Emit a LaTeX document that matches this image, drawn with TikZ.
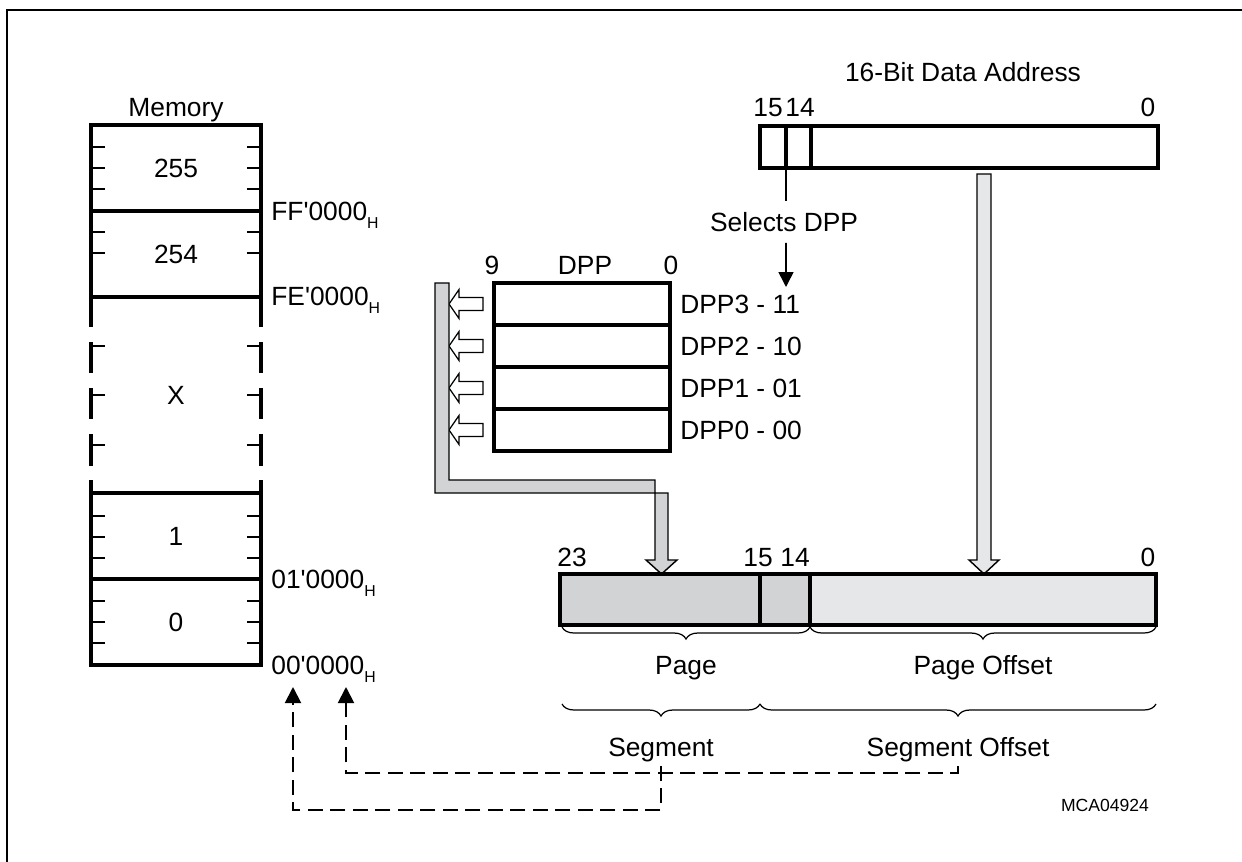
\documentclass[tikz,border=0pt]{standalone}
\usepackage{fontspec}
\setmainfont{Liberation Sans}
\usepackage{tikz}
\usetikzlibrary{arrows.meta,positioning,decorations.pathreplacing}
\definecolor{pagegray}{RGB}{209,211,212}
\definecolor{offgray}{RGB}{230,231,232}
\newcommand{\hexaddr}[1]{#1\raisebox{-4.8pt}{\fontsize{9}{9}\selectfont H}}

\begin{document}
\begin{tikzpicture}[
    x=0.02cm, y=-0.02cm,
    font=\fontsize{15}{18}\selectfont,
    lbl/.style={inner sep=0pt, text height=10.7pt, text depth=0pt},
    heavy/.style={line width=2pt},
    tick/.style={line width=1.1pt},
    memblk/.style={lbl, rectangle, draw, heavy, minimum width=3.4cm, minimum height=1.72cm},
    regcell/.style={rectangle, draw, heavy, outer sep=0pt, minimum height=0.84cm},
    dppreg/.style={regcell, minimum width=3.52cm},
    hollow/.style={draw, fill=white, line width=0.7pt, line join=miter},
    fatarrow/.style={draw, line width=0.8pt},
    pointer/.style={line width=0.9pt},
    brace/.style={decorate, decoration={brace, mirror, amplitude=0.24cm}, line width=0.7pt},
    dasharrow/.style={line width=1.1pt, dash pattern=on 0.3cm off 0.15cm,
        -{Triangle[length=0.32cm, width=0.32cm]}}
]
\useasboundingbox (0,0) rectangle (1242,862);
\draw[line width=0.6pt] (7,862) |- (1242,10);

% memory map
\node[lbl] (memtitle) at (176,107) {Memory};
\node[memblk] (m255) at (176,168) {255};
\node[memblk] (m254) at (176,254) {254};
\node[memblk] (m1)   at (176,536) {1};
\node[memblk] (m0)   at (176,622) {0};
\node[lbl] (mx) at (176,395) {X};
\foreach \ya/\yb in {297/327,342/373,388/419,434/466,480/493}
  \draw[heavy] (91,\ya) -- (91,\yb) (261,\ya) -- (261,\yb);
\foreach \y in {147,168,189,232,253,346,395,445,516,537,558,601,622,643}
  \draw[tick] (91,\y) -- ++(14,0) (261,\y) -- ++(-14,0);

\node[lbl, anchor=west] (aff) at (271,211) {\hexaddr{FF\textquotesingle 0000}};
\node[lbl, anchor=west] (afe) at (271,296) {\hexaddr{FE\textquotesingle 0000}};
\node[lbl, anchor=west] (a01) at (271,579) {\hexaddr{01\textquotesingle 0000}};
\node[lbl, anchor=west] (a00) at (271,665) {\hexaddr{00\textquotesingle 0000}};

% DPP registers
\node[lbl] (dpphi)   at (492,265) {9};
\node[lbl] (dppname) at (585,265) {DPP};
\node[lbl] (dpplo)   at (671,265) {0};
\node[dppreg] (dpp3) at (582,304) {};
\node[dppreg, below=0pt of dpp3] (dpp2) {};
\node[dppreg, below=0pt of dpp2] (dpp1) {};
\node[dppreg, below=0pt of dpp1] (dpp0) {};
\node[lbl, right=0.2cm of dpp3] (dpp3lbl) {DPP3 - 11};
\node[lbl, right=0.2cm of dpp2] (dpp2lbl) {DPP2 - 10};
\node[lbl, right=0.2cm of dpp1] (dpp1lbl) {DPP1 - 01};
\node[lbl, right=0.2cm of dpp0] (dpp0lbl) {DPP0 - 00};
\foreach \r in {3,2,1,0}
  \draw[hollow] (dpp\r.west) ++(-11,-6.5) -- ++(-24,0) -- ++(0,-8) -- ++(-10,14.5)
      -- ++(10,14.5) -- ++(0,-8) -- ++(24,0) -- cycle;

% page number bus
\draw[fatarrow, fill=pagegray] (435,283) -- ++(14,0) -- ++(0,197) -- ++(206,0) -- ++(0,80)
    -- ++(-9,0) -- ++(15.5,14) -- ++(15.5,-14) -- ++(-9,0) -- ++(0,-67) -- ++(-233,0) -- cycle;

% 16-bit data address
\node[lbl] (daddr) at (963,72) {16-Bit Data Address};
\node[regcell, minimum width=0.52cm] (a15) at (773,147) {};
\node[regcell, minimum width=0.5cm, right=0pt of a15] (a14) {};
\node[regcell, minimum width=6.94cm, right=0pt of a14] (alow) {};
\node[lbl] (a15lbl) at (768,107) {15};
\node[lbl] (a14lbl) at (800,107) {14};
\node[lbl] (a0lbl)  at (1148,107) {0};

\node[lbl, inner ysep=0.22cm] (sel) at (784,222) {Selects DPP};
\coordinate (selend) at (786,287);
\draw[pointer] (a15.south east) -- (a15.south east |- sel.north);
\draw[pointer, -{Triangle[length=0.3cm, width=0.3cm]}] (sel.south -| a15.south east) -- (selend);

% page offset path
\draw[fatarrow, fill=offgray] (977,174) -- ++(14,0) -- ++(0,386) -- ++(8,0) -- ++(-15,14)
    -- ++(-15,-14) -- ++(8,0) -- cycle;

% 24-bit physical address
\node[regcell, fill=pagegray, minimum width=4cm, minimum height=1.02cm] (pg) at (660,599.5) {};
\node[regcell, fill=pagegray, minimum width=1cm, minimum height=1.02cm, right=0pt of pg] (pgm) {};
\node[regcell, fill=offgray, minimum width=6.92cm, minimum height=1.02cm, right=0pt of pgm] (poff) {};
\node[lbl] (p23lbl) at (572,557) {23};
\node[lbl] (p15lbl) at (758,557) {15};
\node[lbl] (p14lbl) at (795,557) {14};
\node[lbl] (p0lbl)  at (1148,557) {0};

\draw[brace] (562,627) -- (810,627);
\draw[brace] (810,627) -- (1156,627);
\node[lbl] (pagelbl) at (686,665) {Page};
\node[lbl] (pofflbl) at (983,665) {Page Offset};
\draw[brace] (562,704) -- (760,704);
\draw[brace] (760,704) -- (1156,704);
\node[lbl, inner ysep=0.18cm] (seglbl)  at (661,747) {Segment};
\node[lbl, inner ysep=0.18cm] (sofflbl) at (958,747) {Segment Offset};

% segment / offset back to memory
\coordinate (segtip) at (293,687);
\coordinate (offtip) at (346,687);
\coordinate (outerrow) at (0,810);
\coordinate (innerrow) at (0,773);
\draw[dasharrow] (seglbl.south) -- (seglbl.south |- outerrow) -| (segtip);
\draw[dasharrow] (sofflbl.south) -- (sofflbl.south |- innerrow) -| (offtip);

\node[font=\fontsize{10}{12}\selectfont] (figid) at (1105,805) {MCA04924};
\end{tikzpicture}
\end{document}
